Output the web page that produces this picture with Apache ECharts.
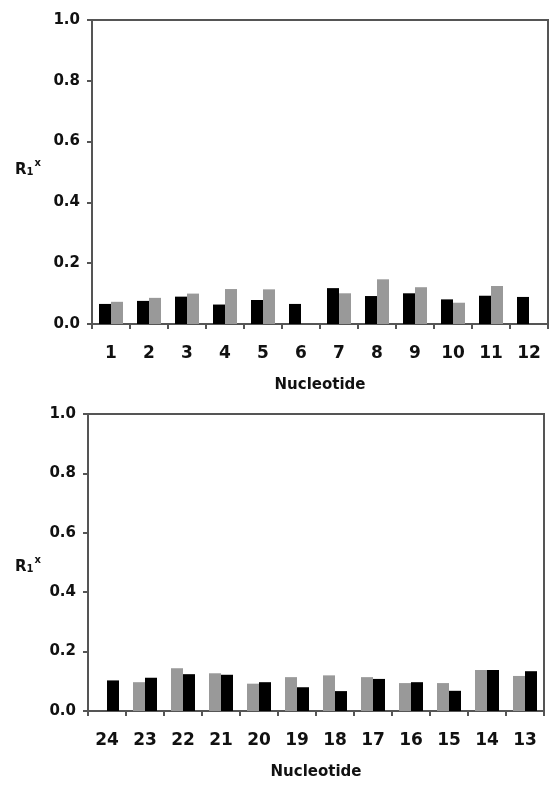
<!DOCTYPE html>
<html>
<head>
<meta charset="utf-8">
<script src="https://cdn.jsdelivr.net/npm/echarts@6/dist/echarts.min.js"></script>
<style>html,body{margin:0;padding:0;background:#fff;}#c{width:549px;height:785px;}</style>
</head>
<body>
<div id="c"></div>
<script>
var topCategories = ['1','2','3','4','5','6','7','8','9','10','11','12'];
var topBlack = [0.066,0.076,0.090,0.064,0.079,0.066,0.118,0.092,0.101,0.081,0.093,0.089];
var topGray  = [0.073,0.086,0.100,0.115,0.114,null,0.101,0.147,0.121,0.070,0.125,null];
var bottomCategories = ['24','23','22','21','20','19','18','17','16','15','14','13'];
var bottomGray  = [null,0.097,0.144,0.127,0.092,0.114,0.120,0.114,0.094,0.094,0.138,0.118];
var bottomBlack = [0.103,0.112,0.124,0.122,0.097,0.080,0.067,0.108,0.097,0.068,0.138,0.134];
var yTicks = [0.0,0.2,0.4,0.6,0.8,1.0];

var FONT = 'DejaVu Sans';
var AX = '#555';
function xAx(idx, cats){
  return {
    type:'category', gridIndex:idx, data:cats,
    axisLine:{lineStyle:{color:AX,width:2}},
    axisTick:{show:true, length:5, inside:false, lineStyle:{color:AX,width:2}},
    axisLabel:{color:'#111', fontFamily:FONT, fontWeight:'bold', fontSize:17, margin:21},
    name:'Nucleotide', nameLocation:'middle', nameGap:54,
    nameTextStyle:{color:'#111', fontFamily:FONT, fontWeight:'bold', fontSize:15}
  };
}
function yAx(idx){
  return {
    type:'value', gridIndex:idx, min:yTicks[0], max:yTicks[yTicks.length-1], interval:0.2,
    axisLine:{show:true, lineStyle:{color:AX,width:2}},
    axisTick:{show:true, length:5, lineStyle:{color:AX,width:2}},
    splitLine:{show:false},
    axisLabel:{color:'#111', fontFamily:FONT, fontWeight:'bold', fontSize:15, margin:12,
      formatter:function(v){return v.toFixed(1);}}
  };
}
function bar(name, x, data, color){
  return {type:'bar', name:name, xAxisIndex:x, yAxisIndex:x, data:data,
    barWidth:12, barGap:'0%', itemStyle:{color:color}, animation:false};
}
var rlabel = function(top){
  return {type:'text', left:15, top:top, style:{
    text:'{r|R}{s|1}{p|x}',
    rich:{
      r:{fontFamily:FONT,fontWeight:'bold',fontSize:15,fill:'#111',verticalAlign:'bottom'},
      s:{fontFamily:FONT,fontWeight:'bold',fontSize:10,fill:'#111',padding:[9,0,0,0]},
      p:{fontFamily:FONT,fontWeight:'bold',fontSize:10,fill:'#111',padding:[0,0,10,1]}
    }
  }};
};
var chart = echarts.init(document.getElementById('c'));
chart.setOption({
  animation:false,
  grid:[
    {left:92, top:20, width:456, height:304, show:true, borderColor:AX, borderWidth:2, backgroundColor:'transparent'},
    {left:88, top:414, width:456, height:297, show:true, borderColor:AX, borderWidth:2, backgroundColor:'transparent'}
  ],
  xAxis:[xAx(0, topCategories), xAx(1, bottomCategories)],
  yAxis:[yAx(0), yAx(1)],
  series:[
    bar('black',0,topBlack,'#000'),
    bar('gray',0,topGray,'#999'),
    bar('gray',1,bottomGray,'#999'),
    bar('black',1,bottomBlack,'#000')
  ],
  graphic:[rlabel(158), rlabel(555)]
});
</script>
</body>
</html>
